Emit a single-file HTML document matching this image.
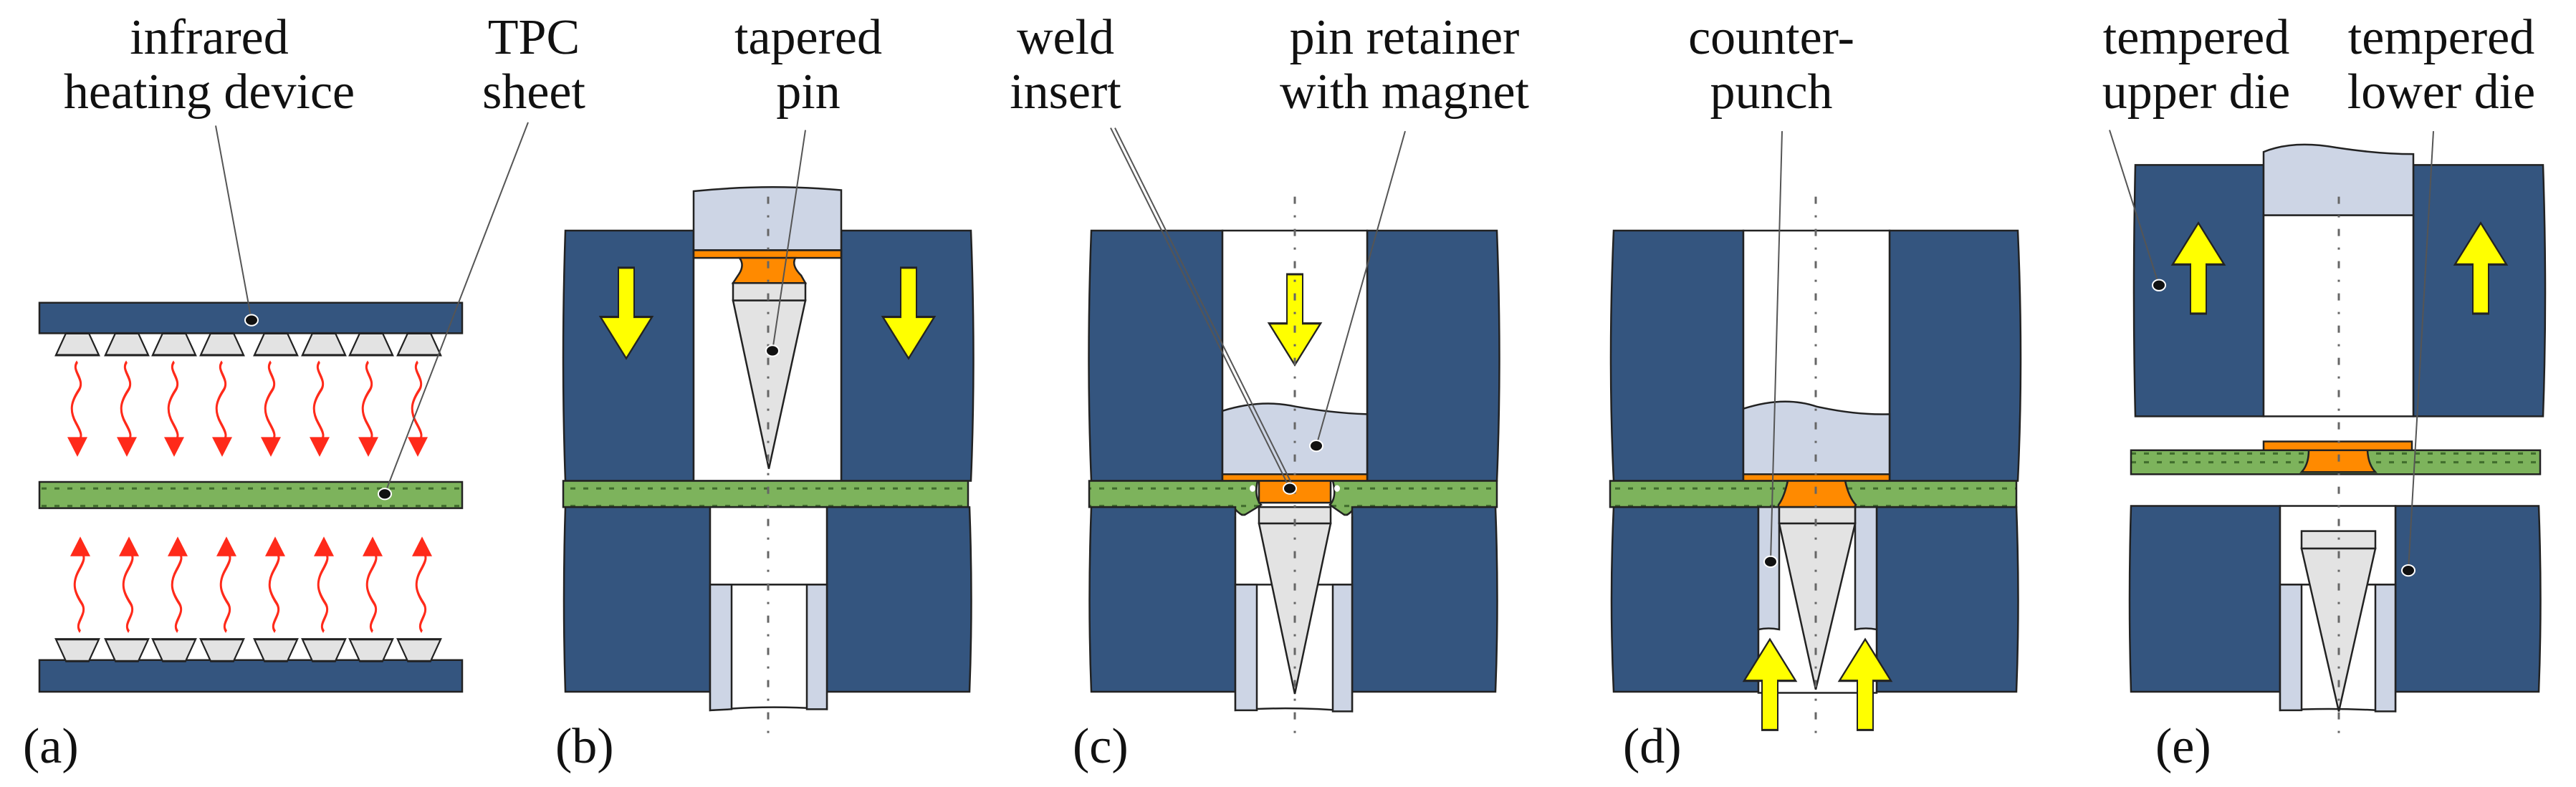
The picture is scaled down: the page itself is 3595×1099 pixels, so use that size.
<!DOCTYPE html>
<html><head><meta charset="utf-8"><style>
html,body{margin:0;padding:0;background:#fff}
svg{display:block}
text{font-family:"Liberation Serif",serif;font-size:70px;fill:#111}
.s *{vector-effect:non-scaling-stroke}
</style></head><body>
<svg width="3595" height="1099" viewBox="0 0 3595 1099" xmlns="http://www.w3.org/2000/svg">
<defs>
<pattern id="gp" x="0" y="0" width="18" height="24" patternUnits="userSpaceOnUse">
<rect width="18" height="24" fill="#7db35c"/>
<rect x="4" y="6" width="7" height="2" fill="#3f6b2c"/>
<rect x="4" y="14" width="7" height="2" fill="#3f6b2c"/>
</pattern>
<g id="wd">
<path d="M0,0 c-10,8 12,16 2,26 s-14,18 -4,30 s8,12 2,20" fill="none" stroke="#ff2a1a" stroke-width="3"/>
<path d="M-14,69 L14,69 L0,87 Z" fill="#ff2a1a"/>
</g>
<g id="wu">
<path d="M0,0 c-10,-8 12,-16 2,-26 s-14,-18 -4,-30 s8,-12 2,-20" fill="none" stroke="#ff2a1a" stroke-width="3"/>
<path d="M-14,-69 L14,-69 L0,-87 Z" fill="#ff2a1a"/>
</g>
<g id="ydn"><path d="M-11,0 L11,0 L11,45 L36,45 L0,83 L-36,45 L-11,45 Z" fill="#ffff00" stroke="#222" stroke-width="2"/></g>
<g id="yup"><path d="M-11,0 L11,0 L11,-45 L36,-45 L0,-83 L-36,-45 L-11,-45 Z" fill="#ffff00" stroke="#222" stroke-width="2"/></g>
<g id="tt"><path d="M-16,0 L16,0 L30,20 L-30,20 Z" fill="#e3e3e3" stroke="#222" stroke-width="2"/></g>
<g id="tb"><path d="M-30,0 L30,0 L16,20 L-16,20 Z" fill="#e3e3e3" stroke="#222" stroke-width="2"/></g>
</defs>
<g class="s" transform="scale(1,1.526)">
<g stroke="#222" stroke-width="2.5">
<!-- (a) -->
<rect x="55" y="277" width="590" height="28" fill="#34557f"/>
<rect x="55" y="441" width="590" height="24" fill="url(#gp)"/>
<rect x="55" y="604" width="590" height="29" fill="#34557f"/>
</g>
<g>
<use href="#tt" x="108" y="305"/><use href="#tt" x="177" y="305"/><use href="#tt" x="243" y="305"/><use href="#tt" x="310" y="305"/>
<use href="#tt" x="385" y="305"/><use href="#tt" x="452" y="305"/><use href="#tt" x="518" y="305"/><use href="#tt" x="585" y="305"/>
<use href="#tb" x="108" y="585"/><use href="#tb" x="177" y="585"/><use href="#tb" x="243" y="585"/><use href="#tb" x="310" y="585"/>
<use href="#tb" x="385" y="585"/><use href="#tb" x="452" y="585"/><use href="#tb" x="518" y="585"/><use href="#tb" x="585" y="585"/>
<use href="#wd" x="108" y="331"/><use href="#wd" x="177" y="331"/><use href="#wd" x="243" y="331"/><use href="#wd" x="310" y="331"/>
<use href="#wd" x="378" y="331"/><use href="#wd" x="446" y="331"/><use href="#wd" x="514" y="331"/><use href="#wd" x="583" y="331"/>
<use href="#wu" x="112" y="578"/><use href="#wu" x="180" y="578"/><use href="#wu" x="248" y="578"/><use href="#wu" x="316" y="578"/>
<use href="#wu" x="384" y="578"/><use href="#wu" x="452" y="578"/><use href="#wu" x="520" y="578"/><use href="#wu" x="589" y="578"/>
</g>

<!-- (b) -->
<g stroke="#222" stroke-width="2.5">
<path d="M789,211 L968,211 L968,440 L789,440 Q783,330 789,211Z" fill="#34557f"/>
<path d="M1174,211 L1355,211 Q1362,330 1355,440 L1174,440 Z" fill="#34557f"/>
<path d="M968,175 Q1070,168 1174,174 L1174,229 L968,229 Z" fill="#cdd5e5"/>
<rect x="968" y="229" width="206" height="211" fill="#fff"/>
<rect x="968" y="229" width="206" height="7" fill="#ff8a00"/>
<path d="M1032,236 L1110,236 Q1104,243 1118,252 L1124,259 L1023,259 L1030,252 Q1040,243 1032,236Z" fill="#ff8a00"/>
<rect x="1023" y="259" width="101" height="16" fill="#e3e3e3"/>
<path d="M1023,275 L1124,275 L1073,429 Z" fill="#e3e3e3"/>
<rect x="786" y="440" width="565" height="24" fill="url(#gp)"/>
<path d="M789,464 L991,464 L991,633 L789,633 Q785,550 789,464Z" fill="#34557f"/>
<path d="M1154,464 L1353,464 Q1358,550 1353,633 L1154,633 Z" fill="#34557f"/>
<rect x="991" y="464" width="163" height="71" fill="#fff"/>
<path d="M991,535 L1154,535 L1154,649 Q1070,645 991,650 Z" fill="#fff"/>
<path d="M991,535 L1021,535 L1021,649 L991,650 Z" fill="#cdd5e5"/>
<path d="M1126,535 L1154,535 L1154,649 L1126,649 Z" fill="#cdd5e5"/>
</g>
<use href="#ydn" x="874" y="245"/><use href="#ydn" x="1268" y="245"/>

<!-- (c) -->
<g stroke="#222" stroke-width="2.5">
<path d="M1523,211 L1706,211 L1706,440 L1523,440 Q1516,330 1523,211Z" fill="#34557f"/>
<path d="M1908,211 L2089,211 Q2096,330 2089,440 L1908,440 Z" fill="#34557f"/>
<rect x="1706" y="211" width="202" height="229" fill="#fff"/>
<path d="M1706,376 Q1760,365 1808,372 Q1860,378 1908,379 L1908,434 L1706,434 Z" fill="#cdd5e5"/>
<rect x="1706" y="434" width="202" height="6" fill="#ff8a00"/>
<path d="M1520,440 L1755,440 Q1750,455 1760,462 L1735,472 Q1725,468 1722,464 L1520,464 Z" fill="url(#gp)"/>
<path d="M2089,440 L1860,440 Q1866,455 1856,462 L1878,472 Q1888,468 1890,464 L2089,464 Z" fill="url(#gp)"/>
<rect x="1757" y="440" width="100" height="20" fill="#ff8a00"/>
<path d="M1523,464 L1724,464 L1724,633 L1523,633 Q1518,550 1523,464Z" fill="#34557f"/>
<path d="M1887,464 L2087,464 Q2092,550 2087,633 L1887,633 Z" fill="#34557f"/>
<rect x="1724" y="472" width="163" height="63" fill="#fff" stroke="none"/>
<line x1="1724" y1="472" x2="1724" y2="535"/><line x1="1887" y1="472" x2="1887" y2="535"/>
<path d="M1724,535 L1887,535 L1887,651 Q1800,646 1724,650 Z" fill="#fff"/>
<path d="M1724,535 L1754,535 L1754,650 L1724,650 Z" fill="#cdd5e5"/>
<path d="M1860,535 L1887,535 L1887,651 L1860,651 Z" fill="#cdd5e5"/>
<rect x="1757" y="464" width="100" height="15" fill="#e3e3e3"/>
<path d="M1757,479 L1857,479 L1807,635 Z" fill="#e3e3e3"/>
</g>
<ellipse cx="1748" cy="447" rx="4" ry="3" fill="#fff"/><ellipse cx="1866" cy="447" rx="4" ry="3" fill="#fff"/>
<use href="#ydn" x="1807" y="251"/>

<!-- (d) -->
<g stroke="#222" stroke-width="2.5">
<path d="M2252,211 L2433,211 L2433,440 L2252,440 Q2244,330 2252,211Z" fill="#34557f"/>
<path d="M2637,211 L2816,211 Q2824,330 2816,440 L2637,440 Z" fill="#34557f"/>
<rect x="2433" y="211" width="204" height="229" fill="#fff"/>
<path d="M2433,374 Q2490,362 2535,372 Q2590,380 2637,379 L2637,434 L2433,434 Z" fill="#cdd5e5"/>
<rect x="2433" y="434" width="204" height="6" fill="#ff8a00"/>
<path d="M2247,440 L2495,440 Q2490,455 2482,464 L2247,464 Z" fill="url(#gp)"/>
<path d="M2814,440 L2575,440 Q2580,455 2588,464 L2814,464 Z" fill="url(#gp)"/>
<path d="M2495,440 L2575,440 Q2580,455 2590,462 L2588,464 L2482,464 L2482,462 Q2490,455 2495,440Z" fill="#ff8a00"/>
<path d="M2252,464 L2454,464 L2454,633 L2252,633 Q2246,550 2252,464Z" fill="#34557f"/>
<path d="M2619,464 L2814,464 Q2819,550 2814,633 L2619,633 Z" fill="#34557f"/>
<rect x="2454" y="464" width="165" height="170" fill="#fff"/>
<path d="M2454,464 L2483,464 L2483,576 Q2468,574 2454,576 Z" fill="#cdd5e5"/>
<path d="M2589,464 L2619,464 L2619,576 Q2604,574 2589,576 Z" fill="#cdd5e5"/>
<rect x="2483" y="464" width="106" height="15" fill="#e3e3e3"/>
<path d="M2483,479 L2589,479 L2534,631 Z" fill="#e3e3e3"/>
</g>
<use href="#yup" x="2470" y="668"/><use href="#yup" x="2603" y="668"/>

<!-- (e) -->
<g stroke="#222" stroke-width="2.5">
<path d="M2980,151 L3159,151 L3159,381 L2980,381 Q2976,270 2980,151Z" fill="#34557f"/>
<path d="M3368,151 L3549,151 Q3555,270 3549,381 L3368,381 Z" fill="#34557f"/>
<path d="M3159,139 Q3200,128 3260,135 Q3320,141 3368,141 L3368,197 L3159,197 Z" fill="#cdd5e5"/>
<rect x="3159" y="197" width="209" height="184" fill="#fff"/>
<rect x="3159" y="404" width="207" height="8" fill="#ff8a00"/>
<rect x="2974" y="412" width="571" height="22" fill="url(#gp)"/>
<path d="M3222,412 L3304,412 Q3305,425 3315,432 L3212,432 Q3222,425 3222,412Z" fill="#ff8a00"/>
<path d="M2974,463 L3182,463 L3182,633 L2974,633 Q2970,550 2974,463Z" fill="#34557f"/>
<path d="M3343,463 L3543,463 Q3548,550 3543,633 L3343,633 Z" fill="#34557f"/>
<rect x="3182" y="463" width="161" height="72" fill="#fff"/>
<path d="M3182,535 L3343,535 L3343,651 Q3260,647 3182,650 Z" fill="#fff"/>
<path d="M3182,535 L3212,535 L3212,650 L3182,650 Z" fill="#cdd5e5"/>
<path d="M3315,535 L3343,535 L3343,651 L3315,651 Z" fill="#cdd5e5"/>
<rect x="3212" y="486" width="103" height="16" fill="#e3e3e3"/>
<path d="M3212,502 L3315,502 L3264,651 Z" fill="#e3e3e3"/>
</g>
<use href="#yup" x="3068" y="287"/><use href="#yup" x="3462" y="287"/>

<!-- centre dash lines -->
<g stroke="#666" stroke-width="3" stroke-dasharray="10 16 3 16">
<line x1="1072" y1="180" x2="1072" y2="676"/>
<line x1="1807" y1="180" x2="1807" y2="676"/>
<line x1="2534" y1="180" x2="2534" y2="676"/>
<line x1="3264" y1="180" x2="3264" y2="676"/>
</g>

<!-- leaders -->
<g stroke="#555" stroke-width="2" fill="none">
<line x1="301" y1="115" x2="351" y2="293"/>
<line x1="737" y1="112" x2="537" y2="452"/>
<line x1="1124" y1="119" x2="1078" y2="321"/>
<line x1="1550" y1="117" x2="1800" y2="447"/>
<line x1="1556" y1="117" x2="1806" y2="447"/>
<line x1="1961" y1="120" x2="1837" y2="408"/>
<line x1="2487" y1="120" x2="2471" y2="514"/>
<line x1="2944" y1="119" x2="3013" y2="261"/>
<line x1="3396" y1="120" x2="3361" y2="522"/>
</g>
<g fill="#111" stroke="#fff" stroke-width="2">
<ellipse cx="351" cy="293" rx="9" ry="5"/>
<ellipse cx="537" cy="452" rx="9" ry="5"/>
<ellipse cx="1078" cy="321" rx="9" ry="5"/>
<ellipse cx="1800" cy="447" rx="9" ry="5"/>
<ellipse cx="1837" cy="408" rx="9" ry="5"/>
<ellipse cx="2471" cy="514" rx="9" ry="5"/>
<ellipse cx="3013" cy="261" rx="9" ry="5"/>
<ellipse cx="3361" cy="522" rx="9" ry="5"/>
</g>
</g>

<!-- labels -->
<g text-anchor="middle">
<text x="292" y="75">infrared</text>
<text x="292" y="151">heating device</text>
<text x="745" y="75">TPC</text>
<text x="745" y="151">sheet</text>
<text x="1128" y="75">tapered</text>
<text x="1128" y="151">pin</text>
<text x="1487" y="75">weld</text>
<text x="1487" y="151">insert</text>
<text x="1960" y="75">pin retainer</text>
<text x="1960" y="151">with magnet</text>
<text x="2472" y="75">counter-</text>
<text x="2472" y="151">punch</text>
<text x="3065" y="75">tempered</text>
<text x="3065" y="151">upper die</text>
<text x="3407" y="75">tempered</text>
<text x="3407" y="151">lower die</text>
</g>
<text x="32" y="1065">(a)</text>
<text x="775" y="1065">(b)</text>
<text x="1497" y="1065">(c)</text>
<text x="2265" y="1065">(d)</text>
<text x="3008" y="1065">(e)</text>
</svg>
</body></html>
